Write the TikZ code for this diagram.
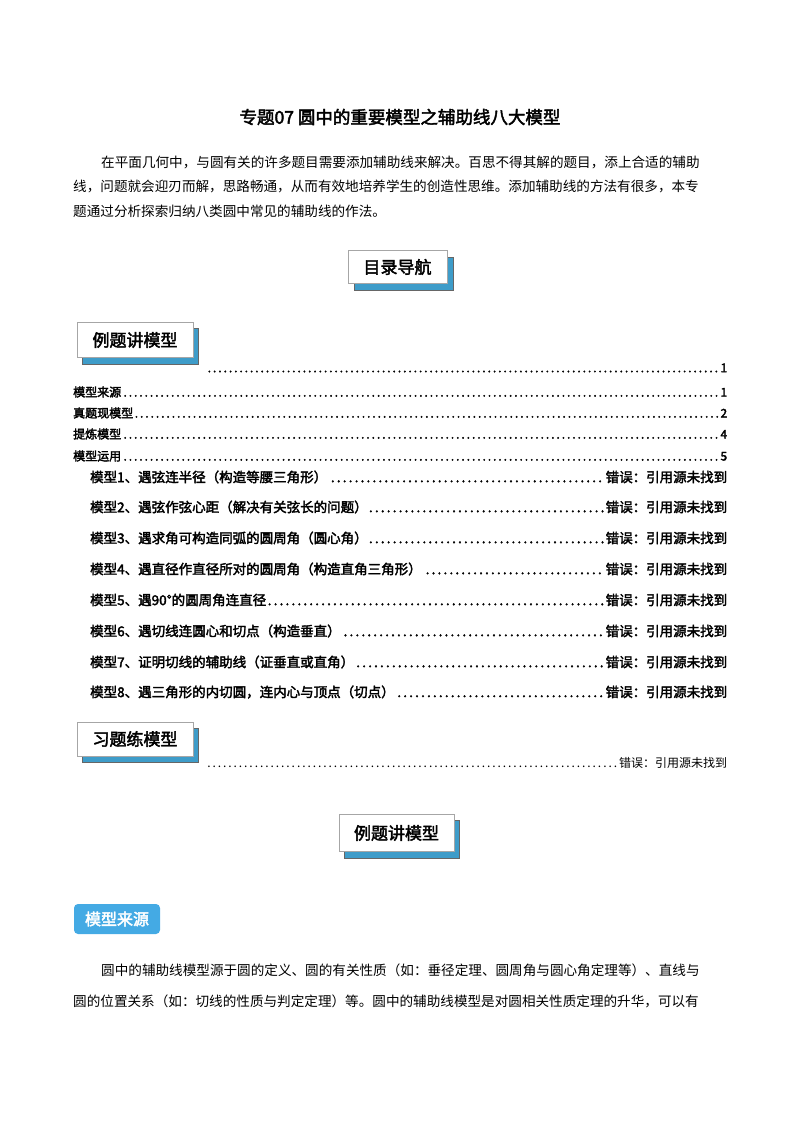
\documentclass[tikz,border=0pt]{standalone}
\usepackage{fontspec}
\setmainfont{Liberation Serif}
\newfontfamily\cjk[AutoFakeBold=2.5]{Noto Sans CJK SC}
\definecolor{shc}{HTML}{3E9CC9}
\begin{document}
\begin{tikzpicture}[x=1pt,y=-1pt,
  hbox/.style={draw=gray!70,line width=0.8pt,fill=white,minimum height=33pt,inner sep=5pt,font=\cjk\bfseries\fontsize{17}{17}\selectfont},
  shad/.style={fill=shc,draw=black!60},
  line/.style={anchor=west,font=\cjk\fontsize{13.6}{14}\selectfont,inner sep=0pt},
  toc/.style={anchor=west,font=\cjk\bfseries\fontsize{12}{12}\selectfont,inner sep=0pt},
  tocm/.style={anchor=west,font=\cjk\bfseries\fontsize{13.5}{14}\selectfont,inner sep=0pt,text width=637pt}]
\useasboundingbox (0,0) rectangle (800,1132);
\node[font=\cjk\bfseries\fontsize{17.5}{18}\selectfont] (title) at (400,117) {专题07\ 圆中的重要模型之辅助线八大模型};
\node[line] (p1) at (101,162) {在平面几何中，与圆有关的许多题目需要添加辅助线来解决。百思不得其解的题目，添上合适的辅助};
\node[line] (p2) at (73,186) {线，问题就会迎刃而解，思路畅通，从而有效地培养学生的创造性思维。添加辅助线的方法有很多，本专};
\node[line] (p3) at (73,211) {题通过分析探索归纳八类圆中常见的辅助线的作法。};
% header boxes
\fill[shad] (354,257) rectangle (453,290);
\node[hbox,minimum width=99pt] (h1) at (397.5,267) {目录导航};
\fill[shad] (82,328) rectangle (198,364);
\node[hbox,minimum width=116pt,minimum height=35pt] (h2) at (135,340) {例题讲模型};
\fill[shad] (82,728) rectangle (198,762);
\node[hbox,minimum width=116pt,minimum height=34pt] (h3) at (135,739) {习题练模型};
\fill[shad] (344,820) rectangle (459,858);
\node[hbox,minimum width=115pt,minimum height=37pt] (h4) at (396.5,833) {例题讲模型};
\node[fill=cyan!80!blue!75,rounded corners=4pt,text=white,font=\cjk\bfseries\fontsize{16}{16}\selectfont,minimum width=86pt,minimum height=30pt,inner sep=2pt] (m0) at (117,919) {模型来源};
% toc
\node[toc,text width=522pt] (t0) at (205,368) {\dotfill 1};
\node[toc,text width=654pt] (t1) at (73,392) {模型来源\dotfill 1};
\node[toc,text width=654pt] (t2) at (73,413) {真题现模型\dotfill 2};
\node[toc,text width=654pt] (t3) at (73,434) {提炼模型\dotfill 4};
\node[toc,text width=654pt] (t4) at (73,456) {模型运用\dotfill 5};
\node[tocm] (a1) at (90,477) {模型1、遇弦连半径（构造等腰三角形）\dotfill 错误：引用源未找到};
\node[tocm] (a2) at (90,507) {模型2、遇弦作弦心距（解决有关弦长的问题）\dotfill 错误：引用源未找到};
\node[tocm] (a3) at (90,538) {模型3、遇求角可构造同弧的圆周角（圆心角）\dotfill 错误：引用源未找到};
\node[tocm] (a4) at (90,569) {模型4、遇直径作直径所对的圆周角（构造直角三角形）\dotfill 错误：引用源未找到};
\node[tocm] (a5) at (90,600) {模型5、遇90°的圆周角连直径\dotfill 错误：引用源未找到};
\node[tocm] (a6) at (90,631) {模型6、遇切线连圆心和切点（构造垂直）\dotfill 错误：引用源未找到};
\node[tocm] (a7) at (90,662) {模型7、证明切线的辅助线（证垂直或直角）\dotfill 错误：引用源未找到};
\node[tocm] (a8) at (90,692) {模型8、遇三角形的内切圆，连内心与顶点（切点）\dotfill 错误：引用源未找到};
\node[anchor=west,inner sep=0pt,text width=522pt,font=\cjk\fontsize{12}{12}\selectfont] (t5) at (205,763) {\dotfill 错误：引用源未找到};
% last paragraph
\node[line] (q1) at (101,970) {圆中的辅助线模型源于圆的定义、圆的有关性质（如：垂径定理、圆周角与圆心角定理等）、直线与};
\node[line] (q2) at (73,1001) {圆的位置关系（如：切线的性质与判定定理）等。圆中的辅助线模型是对圆相关性质定理的升华，可以有};
\end{tikzpicture}
\end{document}
